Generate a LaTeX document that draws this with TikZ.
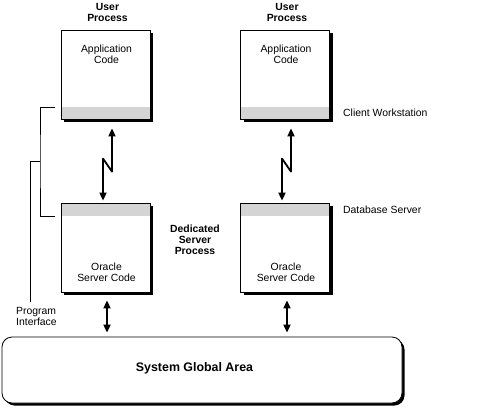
\documentclass[tikz,border=0pt]{standalone}
\usepackage{fontspec}
\setmainfont{Liberation Sans}
\usetikzlibrary{arrows.meta,shadows}

\tikzset{
  proc/.style={draw, fill=white, line width=0.8pt, inner sep=0pt,
    minimum width=89pt, minimum height=89pt,
    drop shadow={shadow xshift=3pt, shadow yshift=-3pt, fill=black, opacity=1}},
  bandlow/.style={proc, path picture={\fill[band] (path picture bounding box.south west)
    rectangle ([yshift=12pt]path picture bounding box.south east);}},
  bandhigh/.style={proc, path picture={\fill[band] ([yshift=-13pt]path picture bounding box.north west)
    rectangle (path picture bounding box.north east);}},
  band/.style={fill=black!17},
  txt/.style={inner sep=0pt, align=center},
  head/.style={txt, font=\fontsize{10.4}{11}\selectfont\bfseries},
  link/.style={line width=1.8pt, line join=round, {Triangle[width=7pt,length=8pt]}-{Triangle[width=7pt,length=8pt]}},
  bracket/.style={line width=0.8pt},
}

\begin{document}
\begin{tikzpicture}[x=1pt, y=-1pt, font=\fontsize{10.4}{11}\selectfont]
    \useasboundingbox (0,0) rectangle (480,416);

    % client side
    \node[bandlow] (app1) at (105.5,74.5) {};
    \node[bandlow] (app2) at (285,74.5) {};
    \node[head, anchor=north] (user1) at (107.5,3) {User\\Process};
    \node[head, anchor=north] (user2) at (287,3) {User\\Process};
    \node[txt, anchor=north] (code1) at (106.5,45) {Application\\Code};
    \node[txt, anchor=north] (code2) at (286,45) {Application\\Code};
    \node[txt, anchor=west] (client) at (343,113) {Client Workstation};

    % server side
    \node[bandhigh] (srv1) at (105.5,247.5) {};
    \node[bandhigh] (srv2) at (285,247.5) {};
    \node[txt, anchor=north] (ora1) at (106.5,263) {Oracle\\Server Code};
    \node[txt, anchor=north] (ora2) at (286,263) {Oracle\\Server Code};
    \node[head, anchor=north] (ded) at (195,225) {Dedicated\\Server\\Process};
    \node[txt, anchor=west] (dbsrv) at (343,210) {Database Server};

    % shared memory
    \node[draw, fill=white, line width=0.8pt, rounded corners=10pt,
        minimum width=400pt, minimum height=66pt,
        drop shadow={shadow xshift=2.5pt, shadow yshift=-2.5pt, fill=black, opacity=1}] (sga) at (202,370) {};
    \node[txt, font=\fontsize{12.4}{14}\selectfont\bfseries] (sgatext) at (194.5,368.5) {System Global Area};
    \node[txt, align=left, anchor=north west] (pif) at (16,307) {Program\\Interface};

    % connections
    \draw[link] ([xshift=-2.5pt,yshift=2pt]srv1.north) -- ++(0,-42) -- ++(9,13)
        -- ([xshift=6.5pt,yshift=-9pt]app1.south);
    \draw[link] ([xshift=-3pt,yshift=2pt]srv2.north) -- ++(0,-42) -- ++(9,13)
        -- ([xshift=6pt,yshift=-9pt]app2.south);
    \draw[link] ([xshift=1.5pt,yshift=-8pt]srv1.south) -- ([xshift=1.5pt,yshift=4pt]srv1.south |- sga.north);
    \draw[link] ([xshift=2pt,yshift=-8pt]srv2.south) -- ([xshift=2pt,yshift=4pt]srv2.south |- sga.north);

    % program interface bracket
    \coordinate (pi1) at ([xshift=-6pt,yshift=12pt]app1.south west);
    \coordinate (pi2) at ([xshift=-6pt,yshift=-14pt]srv1.north west);
    \coordinate (pi3) at (40,161);
    \draw[bracket] (pi1) -| (pi3) |- (pi2);
    \draw[bracket] (pi3) -| ([xshift=14pt,yshift=5pt]pif.north west);
\end{tikzpicture}
\end{document}
